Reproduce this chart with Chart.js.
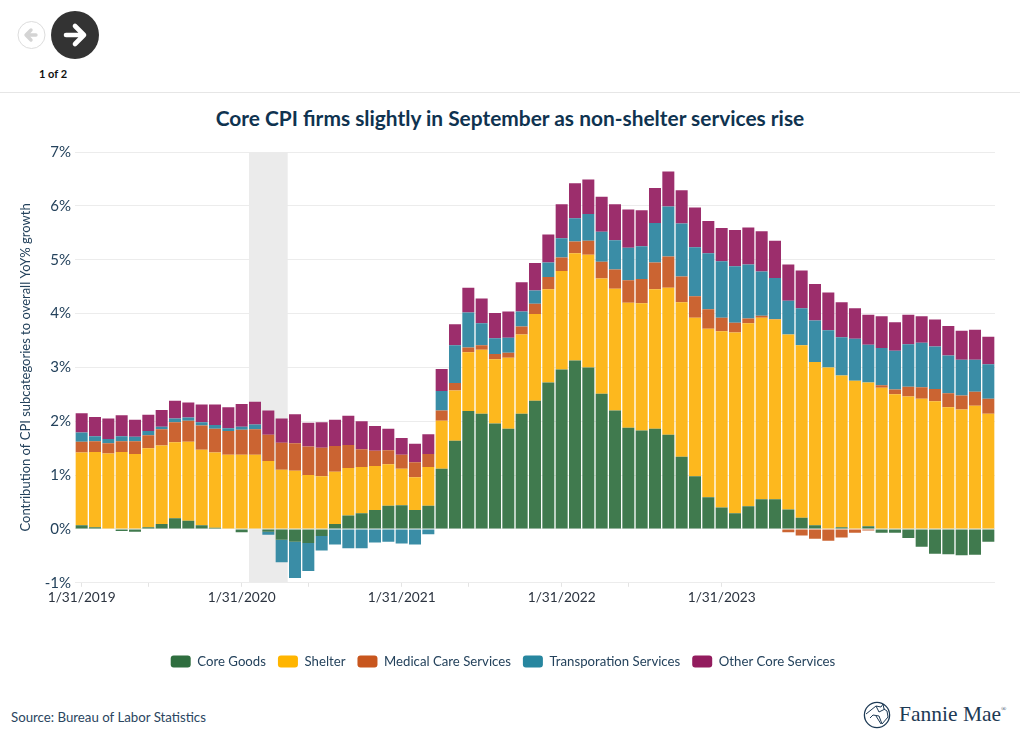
<!DOCTYPE html>
<html>
<head>
<meta charset="utf-8">
<title>Core CPI</title>
<script src="https://cdn.jsdelivr.net/npm/chart.js@4"></script>
<style>
  html, body { margin: 0; padding: 0; background: #fff; }
  body { width: 1020px; height: 743px; position: relative; overflow: hidden; font-family: Lato, sans-serif; }
  .nav { position: absolute; left: 0; top: 0; }
  .pager { position: absolute; left: 13px; width: 80px; top: 67px; text-align: center; font-size: 11px; font-weight: 700; color: #111; }
  .rule { position: absolute; left: 0; width: 1020px; top: 92px; height: 1px; background: #e6e6e6; }
  .title { position: absolute; left: 0; width: 1020px; top: 105px; text-align: center; font-size: 20.9px; line-height: 26px; font-weight: 700; color: #0f3350; }
  #chart { position: absolute; left: 0; top: 94px; }
  .source { position: absolute; left: 11px; top: 709px; font-size: 13.25px; color: #2a4560; }
  .logo { position: absolute; left: 860px; top: 698px; }
  .brand { position: absolute; left: 899px; top: 702px; font-family: "Liberation Serif", serif; font-size: 21.5px; color: #1d3a55; white-space: nowrap; }
  .brand sup { font-size: 7px; vertical-align: 10px; }
</style>
</head>
<body>
<svg class="nav" width="110" height="64">
  <circle cx="31.5" cy="35" r="13.5" fill="#fff" stroke="#ddd"/>
  <path d="M36 35H27M31 30l-5 5 5 5" fill="none" stroke="#d4d4d4" stroke-width="3.4" stroke-linecap="round" stroke-linejoin="round"/>
  <circle cx="75" cy="35" r="24" fill="#333"/>
  <path d="M66 35H82M75 26l9 9-9 9" fill="none" stroke="#fff" stroke-width="4.6" stroke-linecap="round" stroke-linejoin="round"/>
</svg>
<div class="pager">1 of 2</div>
<div class="rule"></div>
<div class="title">Core CPI firms slightly in September as non-shelter services rise</div>
<canvas id="chart" width="1020" height="584"></canvas>
<div class="source">Source: Bureau of Labor Statistics</div>
<svg class="logo" width="34" height="34" viewBox="0 0 34 34">
  <circle cx="17" cy="17" r="12.6" fill="none" stroke="#1d3a55" stroke-width="1.3"/>
  <path d="M6 16l10-8 5 1 2-3 1 5 3 2 1 6-6 7-3-8-6-1-3 3M16 8l3 6 6-3M16 18l5 8" fill="none" stroke="#1d3a55" stroke-width="1"/>
</svg>
<div class="brand">Fannie Mae<sup>®</sup></div>

<script>
const months = [
  "1/31/2019","2/28/2019","3/31/2019","4/30/2019","5/31/2019","6/30/2019","7/31/2019","8/31/2019","9/30/2019","10/31/2019","11/30/2019","12/31/2019",
  "1/31/2020","2/29/2020","3/31/2020","4/30/2020","5/31/2020","6/30/2020","7/31/2020","8/31/2020","9/30/2020","10/31/2020","11/30/2020","12/31/2020",
  "1/31/2021","2/28/2021","3/31/2021","4/30/2021","5/31/2021","6/30/2021","7/31/2021","8/31/2021","9/30/2021","10/31/2021","11/30/2021","12/31/2021",
  "1/31/2022","2/28/2022","3/31/2022","4/30/2022","5/31/2022","6/30/2022","7/31/2022","8/31/2022","9/30/2022","10/31/2022","11/30/2022","12/31/2022",
  "1/31/2023","2/28/2023","3/31/2023","4/30/2023","5/31/2023","6/30/2023","7/31/2023","8/31/2023","9/30/2023","10/31/2023","11/30/2023","12/31/2023",
  "1/31/2024","2/29/2024","3/31/2024","4/30/2024","5/31/2024","6/30/2024","7/31/2024","8/31/2024","9/30/2024",
];

const coreGoods = [
  .07,.03,0,-.04,-.05,.03,.09,.20,.15,.07,.02,0,
  -.06,0,-.05,-.20,-.24,-.26,-.13,.09,.25,.29,.35,.43,
  .44,.35,.43,1.12,1.64,2.19,2.14,1.96,1.86,2.14,2.38,2.72,
  2.96,3.13,3.00,2.51,2.20,1.88,1.83,1.86,1.75,1.34,.98,.59,
  .40,.29,.42,.55,.55,.36,.21,.07,0,.03,0,.05,
  -.07,-.07,-.17,-.33,-.46,-.47,-.49,-.48,-.24,
];
const shelter = [
  1.35,1.40,1.40,1.43,1.39,1.47,1.46,1.41,1.47,1.40,1.40,1.38,
  1.38,1.38,1.26,1.10,1.08,1.00,.98,.97,.88,.86,.82,.77,
  .68,.61,.72,.89,.93,1.09,1.19,1.19,1.32,1.47,1.61,1.73,
  1.83,1.99,2.09,2.14,2.26,2.32,2.36,2.59,2.73,2.87,2.94,3.13,
  3.27,3.36,3.40,3.37,3.34,3.25,3.20,3.03,3.00,2.82,2.75,2.67,
  2.62,2.50,2.46,2.42,2.37,2.26,2.22,2.29,2.14,
];
const medicalCare = [
  .20,.20,.19,.20,.24,.24,.30,.37,.39,.45,.44,.44,
  .46,.47,.49,.50,.51,.53,.53,.48,.43,.33,.28,.26,
  .26,.28,.24,.19,.14,.09,.08,.10,.09,.15,.19,.23,
  .25,.22,.26,.31,.36,.42,.45,.50,.58,.48,.40,.36,
  .25,.18,.09,.04,.01,-.06,-.12,-.18,-.22,-.16,-.07,-.03,
  .05,.09,.18,.21,.23,.26,.26,.26,.28,
];
const transportation = [
  .17,.09,.08,.09,.08,.08,.05,.07,.06,.06,.07,.05,
  .06,.09,-.06,-.42,-.67,-.52,-.27,-.29,-.36,-.36,-.25,-.24,
  -.27,-.29,-.10,.36,.70,.65,.41,.29,.28,.28,.25,.27,
  .36,.43,.50,.56,.54,.60,.61,.73,.93,.98,.91,1.04,
  1.05,1.05,1.00,.82,.76,.63,.69,.77,.69,.71,.78,.70,
  .69,.72,.79,.83,.79,.70,.66,.59,.64,
];
const otherCore = [
  .36,.36,.38,.39,.32,.30,.31,.33,.28,.33,.38,.39,
  .42,.42,.45,.45,.54,.44,.47,.49,.54,.52,.46,.40,
  .31,.34,.37,.41,.39,.46,.46,.47,.49,.54,.51,.52,
  .63,.65,.64,.65,.67,.71,.67,.65,.65,.62,.74,.60,
  .62,.67,.69,.75,.69,.67,.70,.68,.70,.65,.57,.56,
  .59,.53,.55,.49,.50,.55,.54,.56,.51,
];

const seriesNames = ["Core Goods","Shelter","Medical Care Services","Transporation Services","Other Core Services"];
const seriesValues = [coreGoods, shelter, medicalCare, transportation, otherCore];
const barColors = ["#407a4e","#fdb81e","#cb6432","#3a8da6","#9c2e6c"];
const legendColors = ["#2f6e3f","#ffb500","#c8561e","#27869f","#931c5e"];

const labeledMonths = ["1/31/2019","1/31/2020","1/31/2021","1/31/2022","1/31/2023"];
const extraTickMonths = ["6/30/2019","6/30/2020","6/30/2021","6/30/2022"];
const recessionMonths = ["2/29/2020","4/30/2020"];

const TEXT = "#24425c";

const recessionBand = {
  id: "recessionBand",
  beforeDatasetsDraw(c){
    const x = c.scales.x, a = c.chartArea, ctx = c.ctx;
    const half = 6;
    const left = x.getPixelForValue(months.indexOf(recessionMonths[0])) - half;
    const right = x.getPixelForValue(months.indexOf(recessionMonths[1])) + half;
    ctx.save();
    ctx.fillStyle = "#ebebeb";
    ctx.fillRect(left, a.top, right - left, a.bottom - a.top);
    ctx.restore();
  }
};

new Chart(document.getElementById("chart"), {
  type: "bar",
  plugins: [recessionBand],
  data: {
    labels: months,
    datasets: seriesNames.map((name,i)=>({
      label: name,
      data: seriesValues[i],
      backgroundColor: barColors[i],
      stack: "cpi",
      barPercentage: 0.9,
      categoryPercentage: 1,
    })),
  },
  options: {
    responsive: false,
    animation: false,
    // right padding + empty right axis: plot ends at 995 but the legend centres at 503
    layout: { padding: { top: 58, right: 14 } },
    plugins: {
      tooltip: { enabled: false },
      legend: {
        position: "bottom",
        labels: {
          color: TEXT,
          font: { family: "Lato", size: 13.2 },
          boxWidth: 20,
          boxHeight: 12,
          padding: 12,
          useBorderRadius: true,
          borderRadius: 3,
          generateLabels(){
            return seriesNames.map((name,i)=>({
              text: name, fillStyle: legendColors[i], strokeStyle: legendColors[i], lineWidth: 0,
              fontColor: TEXT, datasetIndex: i, borderRadius: 3,
            }));
          },
        },
      },
    },
    scales: {
      x: {
        stacked: true,
        afterFit(s){ s.height = 60; },
        border: { display: false },
        grid: {
          offset: false,
          drawOnChartArea: false,
          tickLength: 4,
          tickColor(ctx){
            const m = months[ctx.index];
            return labeledMonths.includes(m) || extraTickMonths.includes(m) ? "#e4e4e4" : "rgba(0,0,0,0)";
          },
        },
        ticks: {
          autoSkip: false,
          maxRotation: 0,
          minRotation: 0,
          color: "#2c3440",
          font: { family: "Lato", size: 13.7 },
          padding: 3,
          callback(v){ const m = this.getLabelForValue(v); return labeledMonths.includes(m) ? m : ""; },
        },
      },
      y: {
        stacked: true,
        min: -1,
        max: 7,
        afterFit(s){ s.width = 75; },
        border: { display: false },
        grid: { color: "#ececec", drawTicks: false },
        ticks: {
          stepSize: 1,
          color: TEXT,
          font: { family: "Lato", size: 15 },
          padding: 4,
          callback(v){ return v + "%"; },
        },
        title: {
          display: true,
          text: "Contribution of CPI subcategories to overall YoY% growth",
          color: TEXT,
          font: { family: "Lato", size: 13 },
          padding: { top: 18, bottom: 0 },
        },
      },
      gutter: {
        type: "linear",
        position: "right",
        afterFit(s){ s.width = 11; },
        border: { display: false },
        grid: { display: false },
        ticks: { display: false },
      },
    },
  },
});
</script>
</body>
</html>
